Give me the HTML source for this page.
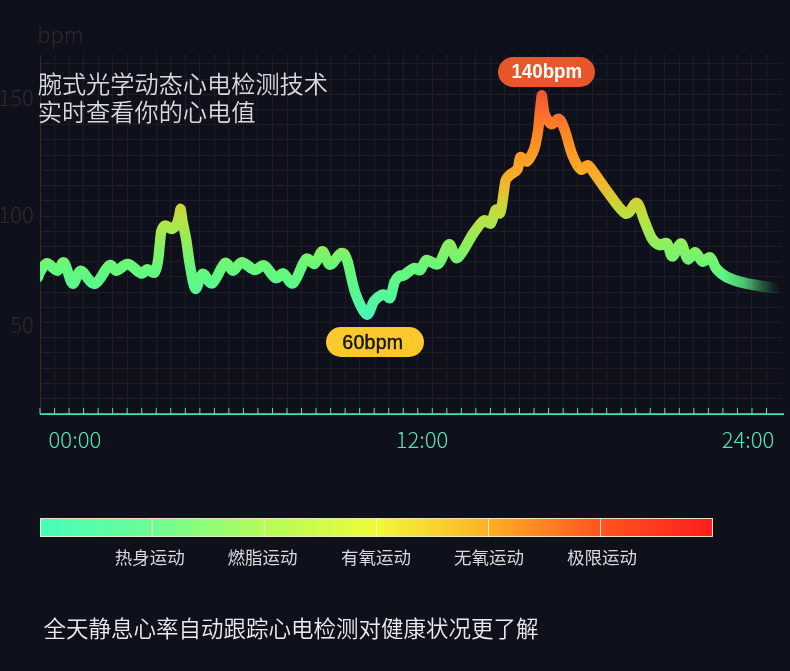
<!DOCTYPE html>
<html lang="zh-CN"><head><meta charset="utf-8"><title>心电检测</title>
<style>
html,body{margin:0;padding:0;background:#0e101c;}
body{width:790px;height:671px;position:relative;overflow:hidden;font-family:"Liberation Sans","Noto Sans CJK SC",sans-serif;}
svg{position:absolute;left:0;top:0;}
.cn{font-family:"Noto Sans CJK SC","Liberation Sans",sans-serif;}
.t{position:absolute;white-space:nowrap;}
.head{left:37.7px;top:68.7px;font-size:24.2px;line-height:28.3px;color:#dadadc;font-weight:350;}
.foot{left:43.5px;top:610px;font-size:22.5px;line-height:34px;color:#ebebed;font-weight:350;}
.ylab{color:#2d2c30;font-size:22px;font-weight:300;text-align:right;right:756.2px;line-height:22px;}
.xlab{color:#52e6b6;font-size:22px;font-weight:300;line-height:22px;top:426.7px;}
.leg{color:#d9d9db;font-size:17.5px;line-height:20px;top:547.3px;width:80px;text-align:center;}
.pill{position:absolute;height:30px;border-radius:15px;text-align:center;font-weight:bold;line-height:30px;}
</style></head><body>
<svg width="790" height="671" viewBox="0 0 790 671">
<defs>
<linearGradient id="lg" gradientUnits="userSpaceOnUse" x1="0" y1="90" x2="0" y2="320">
<stop offset="0.017" stop-color="#f45632"/>
<stop offset="0.078" stop-color="#f9672f"/>
<stop offset="0.143" stop-color="#fc7a29"/>
<stop offset="0.209" stop-color="#fe8b24"/>
<stop offset="0.283" stop-color="#fe9c24"/>
<stop offset="0.357" stop-color="#fcaa26"/>
<stop offset="0.426" stop-color="#eabc2e"/>
<stop offset="0.500" stop-color="#ccd636"/>
<stop offset="0.574" stop-color="#b2e448"/>
<stop offset="0.674" stop-color="#8cf060"/>
<stop offset="0.774" stop-color="#66f87a"/>
<stop offset="0.870" stop-color="#58f890"/>
<stop offset="0.983" stop-color="#4ef4b6"/>
</linearGradient>
<linearGradient id="fade" gradientUnits="userSpaceOnUse" x1="722" y1="0" x2="781" y2="0">
<stop offset="0" stop-color="#fff"/>
<stop offset="0.38" stop-color="#c4c4c4"/>
<stop offset="0.65" stop-color="#5c5c5c"/>
<stop offset="0.85" stop-color="#181818"/>
<stop offset="1" stop-color="#000"/>
</linearGradient>
<mask id="mk" maskUnits="userSpaceOnUse" x="0" y="0" width="790" height="671"><rect x="0" y="0" width="790" height="671" fill="url(#fade)"/></mask>
<linearGradient id="bar" x1="0" y1="0" x2="1" y2="0">
<stop offset="0" stop-color="#44fdbc"/>
<stop offset="0.167" stop-color="#6efc96"/>
<stop offset="0.333" stop-color="#b2fc5a"/>
<stop offset="0.5" stop-color="#effb3a"/>
<stop offset="0.667" stop-color="#ffb026"/>
<stop offset="0.833" stop-color="#ff5420"/>
<stop offset="1" stop-color="#ff1c1e"/>
</linearGradient>
<clipPath id="cp"><rect x="40" y="40" width="750" height="372"/></clipPath>
</defs>
<g stroke="#1e1d24" stroke-width="1" fill="none" shape-rendering="crispEdges">
<path d="M54.53 55V413"/><path d="M69.06 55V413"/><path d="M83.59 55V413"/><path d="M98.12 55V413"/><path d="M112.65 55V413"/><path d="M127.18 55V413"/><path d="M141.71 55V413"/><path d="M156.24 55V413"/><path d="M170.77 55V413"/><path d="M185.30 55V413"/><path d="M199.83 55V413"/><path d="M214.36 55V413"/><path d="M228.89 55V413"/><path d="M243.42 55V413"/><path d="M257.95 55V413"/><path d="M272.48 55V413"/><path d="M287.01 55V413"/><path d="M301.54 55V413"/><path d="M316.07 55V413"/><path d="M330.60 55V413"/><path d="M345.13 55V413"/><path d="M359.66 55V413"/><path d="M374.19 55V413"/><path d="M388.72 55V413"/><path d="M403.25 55V413"/><path d="M417.78 55V413"/><path d="M432.31 55V413"/><path d="M446.84 55V413"/><path d="M461.37 55V413"/><path d="M475.90 55V413"/><path d="M490.43 55V413"/><path d="M504.96 55V413"/><path d="M519.49 55V413"/><path d="M534.02 55V413"/><path d="M548.55 55V413"/><path d="M563.08 55V413"/><path d="M577.61 55V413"/><path d="M592.14 55V413"/><path d="M606.67 55V413"/><path d="M621.20 55V413"/><path d="M635.73 55V413"/><path d="M650.26 55V413"/><path d="M664.79 55V413"/><path d="M679.32 55V413"/><path d="M693.85 55V413"/><path d="M708.38 55V413"/><path d="M722.91 55V413"/><path d="M737.44 55V413"/><path d="M751.97 55V413"/><path d="M766.50 55V413"/><path d="M40 63.80H782"/><path d="M40 79.02H782"/><path d="M40 94.24H782"/><path d="M40 109.46H782"/><path d="M40 124.68H782"/><path d="M40 139.90H782"/><path d="M40 155.12H782"/><path d="M40 170.34H782"/><path d="M40 185.56H782"/><path d="M40 200.78H782"/><path d="M40 216.00H782"/><path d="M40 231.22H782"/><path d="M40 246.44H782"/><path d="M40 261.66H782"/><path d="M40 276.88H782"/><path d="M40 292.10H782"/><path d="M40 307.32H782"/><path d="M40 322.54H782"/><path d="M40 337.76H782"/><path d="M40 352.98H782"/><path d="M40 368.20H782"/><path d="M40 383.42H782"/><path d="M40 398.64H782"/>
<path d="M40.5 55V413" stroke="#302c2a"/>
</g>
<g clip-path="url(#cp)" mask="url(#mk)">
<path d="M37.9 277.0C38.3 276.1 38.7 273.8 40.3 271.5C41.9 269.2 44.4 263.7 47.4 263.5C50.4 263.3 55.2 270.5 58.2 270.4C61.2 270.3 62.8 260.6 65.5 262.8C68.1 265.0 71.3 281.9 74.2 283.3C77.1 284.7 79.2 271.0 83.1 271.1C86.9 271.2 92.5 284.6 97.5 283.7C102.4 282.8 108.8 268.0 112.6 265.8C116.5 263.6 117.3 270.6 120.6 270.4C124.0 270.1 128.4 263.9 132.6 264.3C136.9 264.8 142.8 272.2 146.2 273.1C149.6 274.0 150.4 269.7 152.8 269.6C155.2 269.5 158.8 273.7 160.6 272.3C162.5 270.9 163.2 266.2 164.1 261.5C165.0 256.8 165.5 249.3 166.1 244.2C166.7 239.1 166.9 234.1 167.8 231.0C168.7 227.9 169.8 226.2 171.6 225.8C173.4 225.4 176.4 228.9 178.4 228.7C180.5 228.4 182.4 226.5 183.8 224.3C185.2 222.1 185.9 218.0 186.6 215.5C187.4 213.0 187.5 208.2 188.1 209.3C188.7 210.4 189.1 216.7 190.1 221.8C191.1 226.9 192.6 232.5 193.9 239.7C195.2 246.9 196.2 257.0 197.8 265.1C199.4 273.2 201.4 286.9 203.6 288.4C205.8 289.9 208.2 274.9 211.2 274.0C214.1 273.1 217.6 284.8 221.5 283.0C225.4 281.2 231.0 265.4 234.6 263.3C238.2 261.2 240.2 270.6 243.2 270.5C246.1 270.4 248.8 262.5 252.5 262.4C256.3 262.3 261.9 269.3 265.8 269.8C269.7 270.3 272.4 264.3 276.0 265.6C279.6 266.9 284.3 276.4 287.7 277.7C291.1 279.0 293.0 272.8 296.2 273.7C299.4 274.6 302.9 285.2 306.8 282.8C310.8 280.4 315.9 262.7 319.7 259.5C323.4 256.3 326.3 264.9 329.3 263.5C332.2 262.1 334.7 251.2 337.4 251.4C340.0 251.6 342.0 264.3 345.3 264.6C348.5 264.9 353.9 254.1 356.9 253.4C360.0 252.7 360.9 253.9 363.4 260.5C365.9 267.1 368.5 283.9 371.9 292.9C375.3 301.8 380.4 312.8 383.7 314.2C387.0 315.6 388.9 304.4 391.6 301.2C394.2 298.0 397.4 295.9 399.6 295.0C401.8 294.1 403.2 295.2 404.7 295.6C406.3 296.0 407.5 299.5 408.9 297.2C410.4 294.9 411.7 285.3 413.3 281.8C414.8 278.3 416.6 277.4 418.2 276.3C419.8 275.2 420.6 276.5 423.1 275.2C425.5 273.9 430.1 269.4 433.1 268.5C436.0 267.6 438.2 271.1 440.5 269.7C442.8 268.3 443.7 261.3 446.8 260.3C450.0 259.3 455.4 266.3 459.4 263.7C463.3 261.1 467.3 245.6 470.6 244.6C474.0 243.6 475.3 259.6 479.5 257.8C483.7 256.0 491.2 240.1 495.8 233.9C500.4 227.7 503.9 222.6 507.1 220.8C510.2 219.0 512.5 225.0 514.6 223.2C516.7 221.4 517.9 211.9 519.6 210.1C521.2 208.3 523.2 215.5 524.6 212.5C526.1 209.5 527.3 197.4 528.2 192.0C529.2 186.6 529.1 182.9 530.3 180.0C531.5 177.1 533.5 176.1 535.6 174.3C537.6 172.5 540.9 172.0 542.6 169.2C544.3 166.4 544.0 158.7 545.7 157.4C547.4 156.1 550.4 162.2 552.6 161.3C554.8 160.4 557.5 154.9 558.9 152.1C560.4 149.3 560.6 148.3 561.5 144.6C562.4 140.9 563.7 134.7 564.4 129.7C565.2 124.7 565.4 119.5 565.9 114.8C566.4 110.1 567.0 104.7 567.4 101.5C567.8 98.3 567.9 94.8 568.3 95.8C568.7 96.8 569.2 104.1 569.8 107.4C570.4 110.7 570.4 112.7 571.8 115.5C573.2 118.3 575.9 123.4 578.3 124.0C580.8 124.6 584.0 117.9 586.4 119.1C588.8 120.3 590.4 125.1 592.7 131.1C595.1 137.1 597.6 148.6 600.3 154.9C603.0 161.2 606.3 167.4 609.1 169.2C611.8 171.0 614.1 164.8 616.6 165.6C619.1 166.4 620.8 169.8 624.1 174.0C627.4 178.2 631.3 184.1 636.6 190.7C642.0 197.2 650.9 211.2 656.2 213.3C661.5 215.4 664.9 201.9 668.2 203.2C671.5 204.5 673.5 215.0 676.2 220.9C678.9 226.8 681.5 234.6 684.2 238.6C686.9 242.6 689.5 244.1 692.2 244.9C694.9 245.8 698.0 241.8 700.2 243.7C702.4 245.6 703.1 256.3 705.6 256.3C708.0 256.3 712.2 243.3 714.8 243.7C717.5 244.1 719.1 257.4 721.6 258.9C724.0 260.4 726.9 252.1 729.6 252.5C732.2 252.9 734.9 260.5 737.6 261.4C740.2 262.2 743.1 256.3 745.6 257.6C748.0 258.9 749.3 265.8 752.2 269.0C755.1 272.2 758.4 274.8 762.8 277.0C767.3 279.2 772.6 280.9 778.8 282.4C785.1 283.9 792.8 285.2 800.2 286.2C807.6 287.2 819.3 288.2 823.2 288.6" transform="translate(40 0) scale(0.95 1) translate(-40 0)" fill="none" stroke="url(#lg)" stroke-width="11" stroke-linecap="round" stroke-linejoin="round"/>
</g>
<path d="M40 414.2H784" stroke="#4fe0b2" stroke-width="1.8" fill="none"/>
<path d="M40.00 408V414M54.53 408V414M69.06 408V414M83.59 408V414M98.12 408V414M112.65 408V414M127.18 408V414M141.71 408V414M156.24 408V414M170.77 408V414M185.30 408V414M199.83 408V414M214.36 408V414M228.89 408V414M243.42 408V414M257.95 408V414M272.48 408V414M287.01 408V414M301.54 408V414M316.07 408V414M330.60 408V414M345.13 408V414M359.66 408V414M374.19 408V414M388.72 408V414M403.25 408V414M417.78 408V414M432.31 408V414M446.84 408V414M461.37 408V414M475.90 408V414M490.43 408V414M504.96 408V414M519.49 408V414M534.02 408V414M548.55 408V414M563.08 408V414M577.61 408V414M592.14 408V414M606.67 408V414M621.20 408V414M635.73 408V414M650.26 408V414M664.79 408V414M679.32 408V414M693.85 408V414M708.38 408V414M722.91 408V414M737.44 408V414M751.97 408V414M766.50 408V414" stroke="#4fe0b2" stroke-width="1" fill="none"/>
<rect x="40.5" y="518.5" width="672" height="18" fill="url(#bar)" stroke="#fbf2cc" stroke-width="0.9"/>
<path d="M152.3 518V537M264.6 518V537M376.5 518V537M488.5 518V537M600.5 518V537" stroke="#fbf2cc" stroke-width="0.9" fill="none"/>
</svg>
<div class="t cn" style="left:37.3px;top:18.3px;font-size:22px;line-height:30px;color:#2b2a2d;font-weight:300;">bpm</div>
<div class="t cn ylab" style="top:84.6px;">150</div>
<div class="t cn ylab" style="top:202.1px;">100</div>
<div class="t cn ylab" style="top:312.4px;">50</div>
<div class="t cn head">腕式光学动态心电检测技术<br>实时查看你的心电值</div>
<div class="pill" style="left:498px;top:57px;width:97px;background:#e8562b;color:#fff;font-size:20px;line-height:29px;"><span style="display:inline-block;transform:scaleX(.935)">140bpm</span></div>
<div class="pill" style="left:325.5px;top:327px;width:98px;background:#fcc92c;color:#15141c;font-size:21px;font-weight:normal;-webkit-text-stroke:0.5px #15141c;line-height:29px;"><span style="display:inline-block;transform:scaleX(.93);letter-spacing:.3px;margin-left:-4px">60bpm</span></div>
<div class="t cn xlab" style="left:48.6px;">00:00</div>
<div class="t cn xlab" style="left:395.7px;">12:00</div>
<div class="t cn xlab" style="left:721.7px;">24:00</div>
<div class="t cn leg" style="left:109.8px;">热身运动</div>
<div class="t cn leg" style="left:222.6px;">燃脂运动</div>
<div class="t cn leg" style="left:335.9px;">有氧运动</div>
<div class="t cn leg" style="left:449.0px;">无氧运动</div>
<div class="t cn leg" style="left:561.9px;">极限运动</div>
<div class="t cn foot">全天静息心率自动跟踪心电检测对健康状况更了解</div>
</body></html>
